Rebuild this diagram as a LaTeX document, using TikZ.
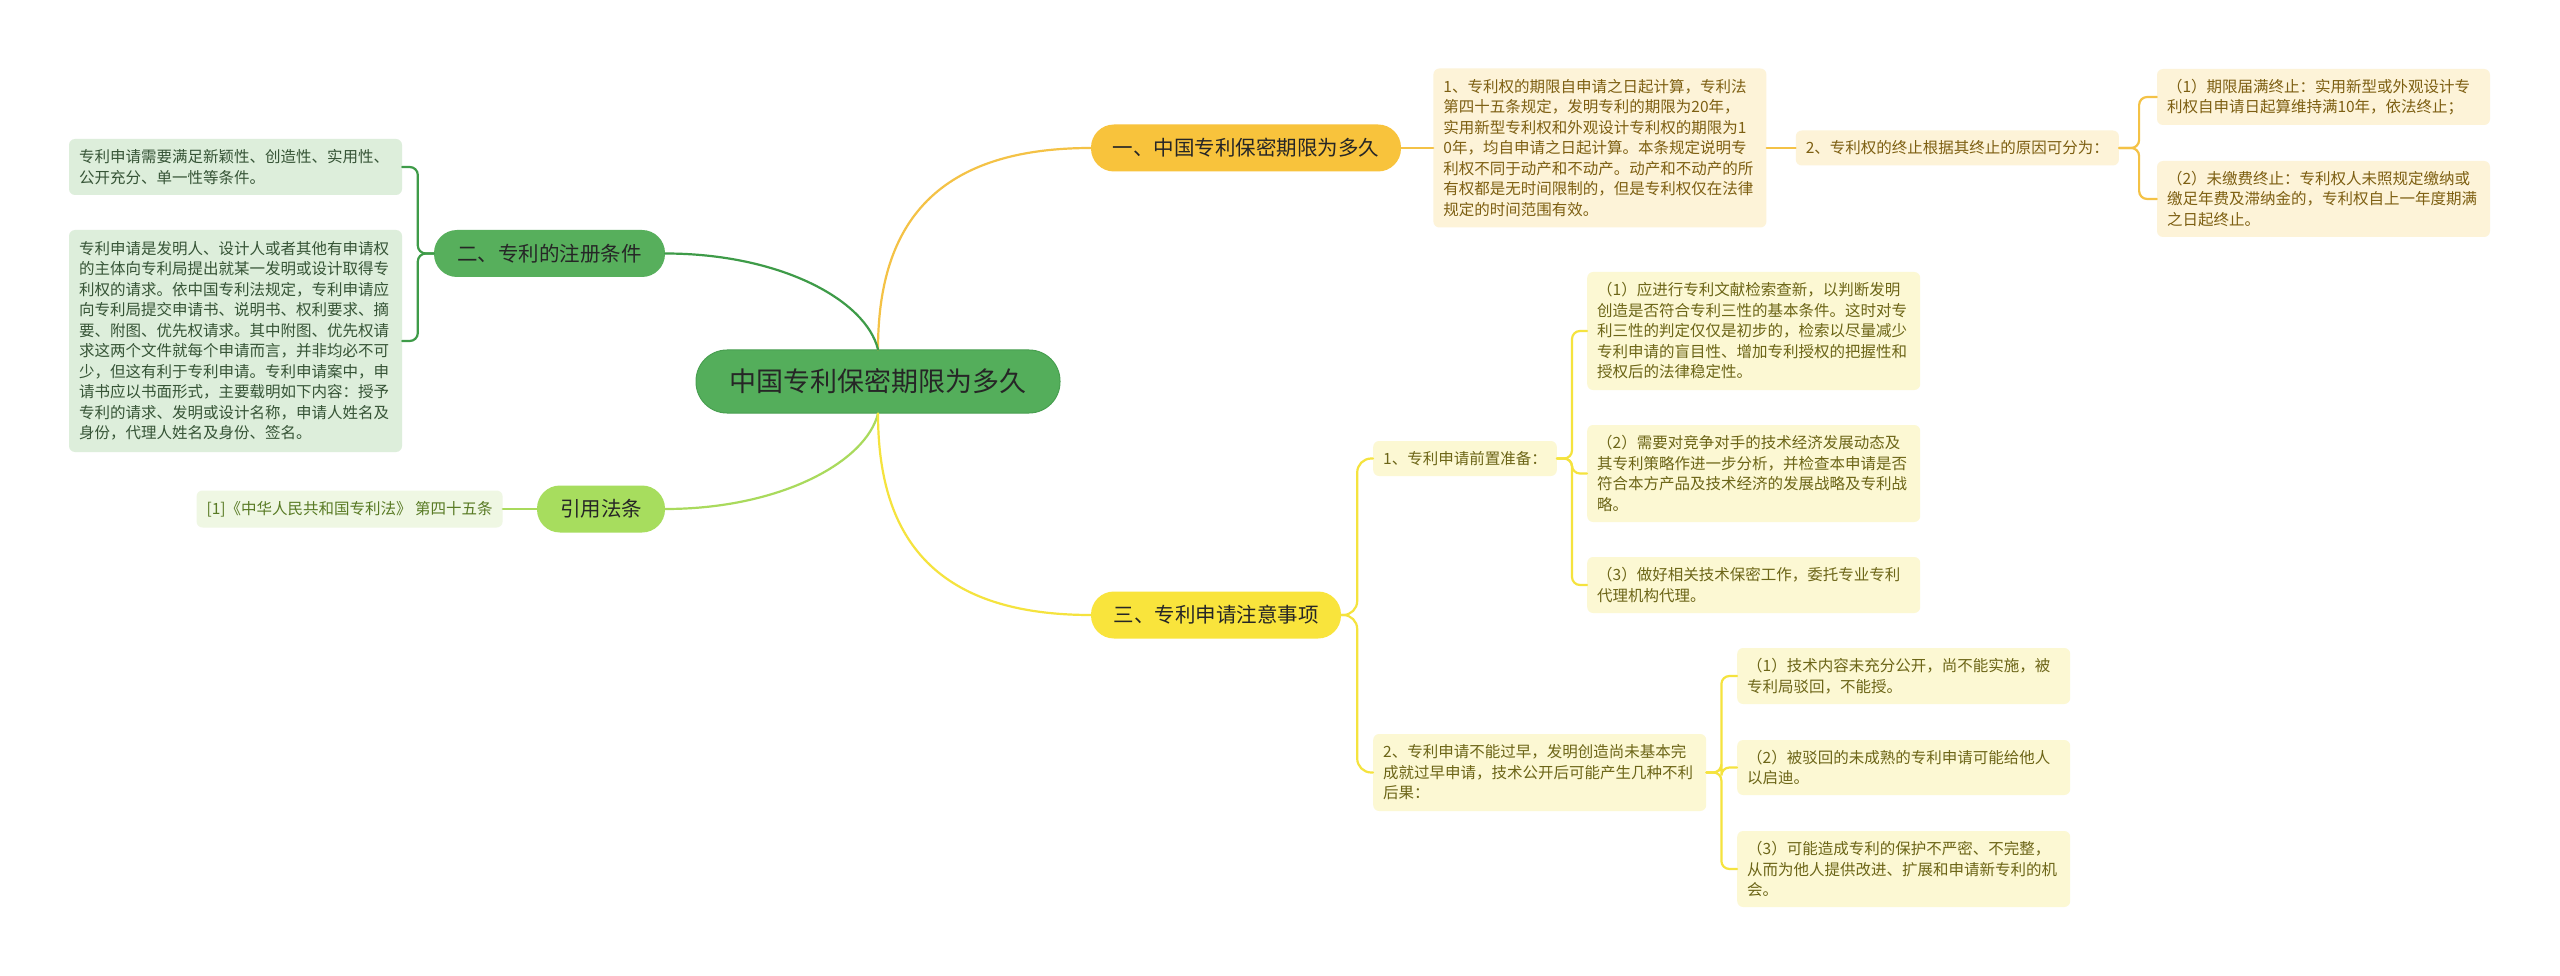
\documentclass[tikz,border=0pt]{standalone}
\usepackage{fontspec}
\setmainfont{Noto Sans CJK SC}
\usepackage{tikz}
\usetikzlibrary{positioning}
\definecolor{rootgreen}{HTML}{54AE5B}
\definecolor{rootedge}{HTML}{489F50}
\definecolor{yigold}{HTML}{F8C33C}
\definecolor{yiline}{HTML}{F4C246}
\definecolor{yipale}{HTML}{FDF3D8}
\definecolor{yitext}{HTML}{7D5F12}
\definecolor{ergreen}{HTML}{57AF5C}
\definecolor{erline}{HTML}{3E9B48}
\definecolor{erpale}{HTML}{DDEEDB}
\definecolor{ertext}{HTML}{365436}
\definecolor{citegreen}{HTML}{A7DD5E}
\definecolor{citeline}{HTML}{A9DA5C}
\definecolor{citepale}{HTML}{EFF7E3}
\definecolor{citetext}{HTML}{587A24}
\definecolor{sanyellow}{HTML}{F9E43C}
\definecolor{sanline}{HTML}{F5E33E}
\definecolor{sanpale}{HTML}{FCF8D3}
\definecolor{santext}{HTML}{6C6517}
\tikzstyle{topic} = [rectangle, rounded corners=23pt, minimum height=47pt, inner sep=0pt, align=center, text=black!85, font=\fontsize{20.5}{24}\selectfont]
\tikzstyle{leaf} = [rectangle, rounded corners=6pt, align=left, inner xsep=10pt, inner ysep=0pt, font=\fontsize{15.5}{20.5}\selectfont]
\tikzstyle{wide} = [text width=313pt]
\tikzstyle{branch} = [line width=2.2pt, line cap=round]

\begin{document}
\begin{tikzpicture}[x=1pt, y=-1pt]
  \fill[white] (0,0) rectangle (2560,976);
  \useasboundingbox (0,0) rectangle (2560,976);

  \node[topic, fill=rootgreen, draw=rootedge, line width=1pt, minimum width=364pt, minimum height=63pt, rounded corners=31pt, font=\fontsize{27}{30}\selectfont] (root) at (878,381.5) {中国专利保密期限为多久};

  % 一
  \node[topic, fill=yigold, minimum width=310pt] (yi) at (1246,148) {一、中国专利保密期限为多久};
  \node[leaf, wide, fill=yipale, text=yitext, minimum height=159pt, right=32pt of yi] (term) {1、专利权的期限自申请之日起计算，专利法\\第四十五条规定，发明专利的期限为20年，\\实用新型专利权和外观设计专利权的期限为1\\0年，均自申请之日起计算。本条规定说明专\\利权不同于动产和不动产。动产和不动产的所\\有权都是无时间限制的，但是专利权仅在法律\\规定的时间范围有效。};
  \node[leaf, fill=yipale, text=yitext, minimum height=35pt, right=29pt of term] (stop) {2、专利权的终止根据其终止的原因可分为：};
  \node[leaf, wide, fill=yipale, text=yitext, minimum height=56pt] (stopa) at (2323.5,97) {（1）期限届满终止：实用新型或外观设计专\\利权自申请日起算维持满10年，依法终止；};
  \node[leaf, wide, fill=yipale, text=yitext, minimum height=76pt] (stopb) at (2323.5,199) {（2）未缴费终止：专利权人未照规定缴纳或\\缴足年费及滞纳金的，专利权自上一年度期满\\之日起终止。};

  % 二
  \node[topic, fill=ergreen, minimum width=231pt] (er) at (549.5,253.5) {二、专利的注册条件};
  \node[leaf, wide, fill=erpale, text=ertext, minimum height=56pt] (cond) at (235.5,167) {专利申请需要满足新颖性、创造性、实用性、\\公开充分、单一性等条件。};
  \node[leaf, wide, fill=erpale, text=ertext, minimum height=222pt] (apply) at (235.5,341) {专利申请是发明人、设计人或者其他有申请权\\的主体向专利局提出就某一发明或设计取得专\\利权的请求。依中国专利法规定，专利申请应\\向专利局提交申请书、说明书、权利要求、摘\\要、附图、优先权请求。其中附图、优先权请\\求这两个文件就每个申请而言，并非均必不可\\少，但这有利于专利申请。专利申请案中，申\\请书应以书面形式，主要载明如下内容：授予\\专利的请求、发明或设计名称，申请人姓名及\\身份，代理人姓名及身份、签名。};

  % 引用法条
  \node[topic, fill=citegreen, minimum width=128pt] (cite) at (601,509) {引用法条};
  \node[leaf, fill=citepale, text=citetext, minimum height=37pt, left=34pt of cite] (law) {[1]《中华人民共和国专利法》 第四十五条};

  % 三
  \node[topic, fill=sanyellow, minimum width=250pt] (san) at (1216,615) {三、专利申请注意事项};
  \node[leaf, fill=sanpale, text=santext, minimum height=35pt, anchor=west] (prep) at (1373,458.5) {1、专利申请前置准备：};
  \node[leaf, wide, fill=sanpale, text=santext, minimum height=118pt, anchor=west] (prepa) at (1587,331) {（1）应进行专利文献检索查新，以判断发明\\创造是否符合专利三性的基本条件。这时对专\\利三性的判定仅仅是初步的，检索以尽量减少\\专利申请的盲目性、增加专利授权的把握性和\\授权后的法律稳定性。};
  \node[leaf, wide, fill=sanpale, text=santext, minimum height=97pt, anchor=west] (prepb) at (1587,473.5) {（2）需要对竞争对手的技术经济发展动态及\\其专利策略作进一步分析，并检查本申请是否\\符合本方产品及技术经济的发展战略及专利战\\略。};
  \node[leaf, wide, fill=sanpale, text=santext, minimum height=56pt, anchor=west] (prepc) at (1587,585) {（3）做好相关技术保密工作，委托专业专利\\代理机构代理。};
  \node[leaf, wide, fill=sanpale, text=santext, minimum height=77pt, anchor=west] (early) at (1373,772.5) {2、专利申请不能过早，发明创造尚未基本完\\成就过早申请，技术公开后可能产生几种不利\\后果：};
  \node[leaf, wide, fill=sanpale, text=santext, minimum height=56pt, anchor=west] (earlya) at (1737,676) {（1）技术内容未充分公开，尚不能实施，被\\专利局驳回，不能授。};
  \node[leaf, wide, fill=sanpale, text=santext, minimum height=55pt, anchor=west] (earlyb) at (1737,767.5) {（2）被驳回的未成熟的专利申请可能给他人\\以启迪。};
  \node[leaf, wide, fill=sanpale, text=santext, minimum height=76pt, anchor=west] (earlyc) at (1737,869) {（3）可能造成专利的保护不严密、不完整，\\从而为他人提供改进、扩展和申请新专利的机\\会。};

  \draw[branch, yiline] (root.north) .. controls (878,230) and (930,148) .. (yi.west);
  \draw[branch, yiline] (yi) -- (term);
  \draw[branch, yiline] (term) -- (stop);
  \draw[branch, yiline, rounded corners=8pt] (stop.east) -- ++(20,0) |- (stopa.west);
  \draw[branch, yiline, rounded corners=8pt] (stop.east) -- ++(20,0) |- (stopb.west);

  \draw[branch, erline] (root.north) .. controls (866,300) and (780,253.5) .. (er.east);
  \draw[branch, erline, rounded corners=8pt] (er.west) -- ++(-16,0) |- (cond.east);
  \draw[branch, erline, rounded corners=8pt] (er.west) -- ++(-16,0) |- (apply.east);

  \draw[branch, citeline] (root.south) .. controls (866,462) and (780,509) .. (cite.east);
  \draw[branch, citeline] (cite) -- (law);

  \draw[branch, sanline] (root.south) .. controls (878,533) and (930,615) .. (san.west);
  \draw[branch, sanline, rounded corners=14pt] (san.east) -- ++(16,0) |- (prep.west);
  \draw[branch, sanline, rounded corners=14pt] (san.east) -- ++(16,0) |- (early.west);
  \draw[branch, sanline, rounded corners=8pt] (prep.east) -- ++(15,0) |- (prepa.west);
  \draw[branch, sanline, rounded corners=8pt] (prep.east) -- ++(15,0) |- (prepb.west);
  \draw[branch, sanline, rounded corners=8pt] (prep.east) -- ++(15,0) |- (prepc.west);
  \draw[branch, sanline, rounded corners=8pt] (early.east) -- ++(15,0) |- (earlya.west);
  \draw[branch, sanline, rounded corners=8pt] (early.east) -- ++(15,0) |- (earlyb.west);
  \draw[branch, sanline, rounded corners=8pt] (early.east) -- ++(15,0) |- (earlyc.west);
\end{tikzpicture}
\end{document}
